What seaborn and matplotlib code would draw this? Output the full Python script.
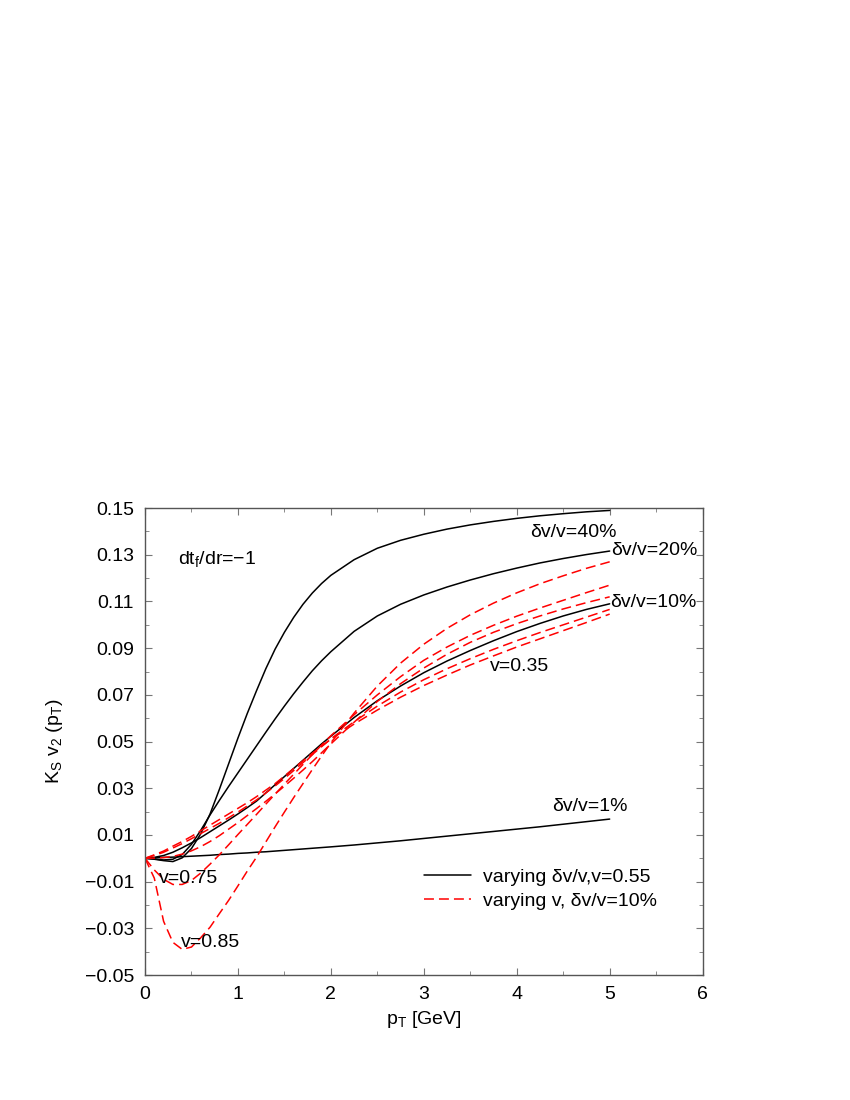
import matplotlib
matplotlib.use("Agg")
import matplotlib.pyplot as plt
import seaborn as sns

# Style
sns.set_style("ticks")
plt.rcParams["font.family"] = ["Liberation Sans", "DejaVu Sans"]
plt.rcParams["font.size"] = 14
plt.rcParams["text.color"] = "black"
plt.rcParams["axes.labelcolor"] = "black"

# pT grid (GeV)
pt = [0, 0.1, 0.2, 0.3, 0.4, 0.5, 0.6, 0.7, 0.8, 0.9, 1.0, 1.1, 1.2,
      1.3, 1.4, 1.5, 1.6, 1.7, 1.8, 1.9, 2.0,
      2.25, 2.5, 2.75, 3.0, 3.25, 3.5, 3.75, 4.0, 4.25, 4.5, 4.75, 5.0]

# varying dv/v, v=0.55 (black solid)
dv40 = [0, -0.0004, -0.001, -0.0014, 0.0002, 0.0042, 0.0105, 0.019, 0.0295, 0.0405, 0.0515, 0.062, 0.0718,
        0.0812, 0.0896, 0.0968, 0.1032, 0.1088, 0.1136, 0.1177, 0.1212,
        0.1279, 0.1328, 0.1362, 0.1388, 0.141, 0.1428, 0.1443, 0.1456, 0.1467, 0.1476, 0.1484, 0.149]
dv20 = [0, -0.0003, -0.0007, -0.0004, 0.0016, 0.006, 0.012, 0.0186, 0.0248, 0.0308, 0.0366, 0.0424, 0.0482,
        0.054, 0.0597, 0.0652, 0.0705, 0.0755, 0.0803, 0.0846, 0.0885,
        0.0972, 0.1038, 0.1088, 0.1128, 0.1162, 0.1192, 0.1219, 0.1243, 0.1265, 0.1284, 0.1301, 0.1316]
dv10 = [0, 0.0004, 0.0012, 0.0026, 0.0045, 0.0066, 0.0089, 0.0114, 0.0139, 0.0164, 0.019, 0.0217, 0.0245,
        0.028, 0.0315, 0.035, 0.0385, 0.042, 0.0455, 0.049, 0.0523,
        0.0603, 0.0675, 0.0738, 0.0795, 0.0845, 0.089, 0.0932, 0.0971, 0.1006, 0.1038, 0.1066, 0.109]
dv01 = [0, 0.0002, 0.0004, 0.0005, 0.0007, 0.0009, 0.0011, 0.0013, 0.0016, 0.0018, 0.0021, 0.0023, 0.0026,
        0.0028, 0.0031, 0.0034, 0.0037, 0.004, 0.0043, 0.0046, 0.0049,
        0.0057, 0.0066, 0.0075, 0.0085, 0.0095, 0.0105, 0.0115, 0.0125, 0.0135, 0.0146, 0.0157, 0.0168]

# varying v, dv/v=10% (red dashed)
v035 = [0, 0.0015, 0.0031, 0.0052, 0.0072, 0.0094, 0.0118, 0.0142, 0.0166, 0.019, 0.0214, 0.0238, 0.0264,
        0.0292, 0.032, 0.0352, 0.0385, 0.0418, 0.045, 0.048, 0.051,
        0.0575, 0.0635, 0.069, 0.074, 0.0785, 0.0828, 0.0867, 0.0905, 0.094, 0.0975, 0.101, 0.1046]
v045 = [0, 0.0012, 0.0026, 0.0044, 0.0063, 0.0084, 0.0106, 0.0128, 0.015, 0.0174, 0.0198, 0.0224, 0.025,
        0.028, 0.031, 0.0342, 0.0376, 0.041, 0.0444, 0.0478, 0.0512,
        0.0585, 0.0652, 0.0712, 0.0765, 0.0812, 0.0855, 0.0895, 0.0932, 0.0967, 0.1, 0.1033, 0.1066]
v065 = [0, 0.0001, 0.0003, 0.0008, 0.0018, 0.0032, 0.005, 0.0072, 0.0097, 0.0125, 0.0153, 0.0183, 0.0213,
        0.0244, 0.0276, 0.0309, 0.0343, 0.0378, 0.0414, 0.0452, 0.049,
        0.0583, 0.0672, 0.0748, 0.0815, 0.0874, 0.0925, 0.0968, 0.1005, 0.1038, 0.1068, 0.1095, 0.112]
v075 = [0, -0.005, -0.009, -0.0112, -0.0112, -0.0095, -0.0063, -0.0025, 0.0015, 0.0058, 0.0102, 0.0145, 0.0188,
        0.0232, 0.0275, 0.0318, 0.036, 0.0402, 0.0444, 0.0485, 0.0525,
        0.0615, 0.07, 0.0778, 0.0848, 0.0905, 0.0955, 0.0998, 0.1037, 0.1072, 0.1105, 0.1138, 0.117]
v085 = [0, -0.0085, -0.027, -0.036, -0.039, -0.038, -0.034, -0.0295, -0.0237, -0.018, -0.0118, -0.0055, 0.0005,
        0.007, 0.0135, 0.0198, 0.026, 0.032, 0.038, 0.0438, 0.0495,
        0.0622, 0.0738, 0.0836, 0.0917, 0.0985, 0.1043, 0.1093, 0.1137, 0.1176, 0.121, 0.1242, 0.127]

x_ticks = [0, 1, 2, 3, 4, 5, 6]
y_ticks = [-0.05, -0.03, -0.01, 0.01, 0.03, 0.05, 0.07, 0.09, 0.11, 0.13, 0.15]
y_ticklabels = ["\u22120.05", "\u22120.03", "\u22120.01", "0.01", "0.03", "0.05",
                "0.07", "0.09", "0.11", "0.13", "0.15"]

fig = plt.figure(figsize=(8.5, 11), dpi=100)
ax = fig.add_axes([0.1706, 0.1136, 0.656, 0.4245])

dash = (0, (6.5, 3.3))
handles = []
for i, vals in enumerate([dv40, dv20, dv10, dv01]):
    sns.lineplot(x=pt, y=vals, ax=ax, color="black", lw=1.1, estimator=None, sort=False)
    if i == 0:
        handles.append(ax.get_lines()[-1])
for i, vals in enumerate([v035, v045, v065, v075, v085]):
    sns.lineplot(x=pt, y=vals, ax=ax, color="red", lw=1.1, linestyle=dash, estimator=None, sort=False)
    if i == 0:
        handles.append(ax.get_lines()[-1])

# Annotations
ax.text(0.36, 0.128, "dt$_\\mathregular{f}$/dr=\u22121", ha="left", va="center")
ax.text(4.14, 0.1397, "\u03b4v/v=40%", ha="left", va="center")
ax.text(5.02, 0.132, "\u03b4v/v=20%", ha="left", va="center")
ax.text(5.0, 0.1097, "\u03b4v/v=10%", ha="left", va="center")
ax.text(3.71, 0.0823, "v=0.35", ha="left", va="center")
ax.text(4.38, 0.0224, "\u03b4v/v=1%", ha="left", va="center")
ax.text(0.15, -0.0085, "v=0.75", ha="left", va="center")
ax.text(0.39, -0.036, "v=0.85", ha="left", va="center")

ax.legend(handles, ["varying \u03b4v/v,v=0.55", "varying v, \u03b4v/v=10%"],
          loc="upper left", bbox_to_anchor=(0.501, 0.228), frameon=False,
          handlelength=2.4, handletextpad=0.6, labelspacing=0.3, borderaxespad=0, borderpad=0)

# Axes
ax.set_xlim(0, 6)
ax.set_ylim(-0.05, 0.15)
ax.set_xticks(x_ticks)
ax.set_xticks([0.5, 1.5, 2.5, 3.5, 4.5, 5.5], minor=True)
ax.set_yticks(y_ticks)
ax.set_yticklabels(y_ticklabels)
ax.set_yticks([-0.04, -0.02, 0.0, 0.02, 0.04, 0.06, 0.08, 0.10, 0.12, 0.14], minor=True)
ax.tick_params(which="both", direction="in", top=True, right=True, color="#777777",
               labelcolor="black", labelsize=14)
ax.tick_params(which="major", length=5, pad=8)
ax.tick_params(which="minor", length=3)
for s in ax.spines.values():
    s.set_color("#555555")
    s.set_linewidth(1)

ax.set_xlabel("p$_\\mathregular{T}$ [GeV]", fontsize=14, labelpad=4)
ax.set_ylabel("K$_\\mathregular{S}$ v$_\\mathregular{2}$ (p$_\\mathregular{T}$)", fontsize=14, labelpad=14)

plt.savefig("out.png", dpi=100)
plt.close()
